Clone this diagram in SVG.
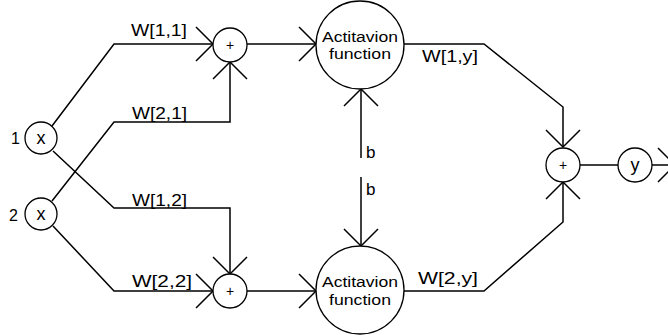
<svg xmlns="http://www.w3.org/2000/svg" width="668" height="335" viewBox="0 0 668 335">
<style>
.n{fill:#fff;stroke:#000;stroke-width:1.3}
.e{fill:none;stroke:#000;stroke-width:1.5}
.t{font-family:"Liberation Sans",Arial,sans-serif;fill:#000}
.lbl{font-size:16px}
.af{font-size:14px;text-anchor:middle}
.c{text-anchor:middle}
</style>
<defs>
<marker id="arr" markerUnits="userSpaceOnUse" markerWidth="40" markerHeight="40" refX="20" refY="20" orient="auto" viewBox="0 0 40 40" overflow="visible">
<path d="M3,3 L20,20 L3,37" fill="none" stroke="#000" stroke-width="1.5"/>
</marker>
</defs>
<g id="connectors">
<path class="e" d="M52,126 L114,44 L213,44" marker-end="url(#arr)"/>
<path class="e" d="M53,151 L114,208 L230,208 L230,274" marker-end="url(#arr)"/>
<path class="e" d="M52,201 L114,122 L230,122 L230,62" marker-end="url(#arr)"/>
<path class="e" d="M53,226 L114,291 L213,291" marker-end="url(#arr)"/>
<path class="e" d="M247,44 L316,44" marker-end="url(#arr)"/>
<path class="e" d="M247,291 L316,291" marker-end="url(#arr)"/>
<path class="e" d="M361,158 L361,89" marker-end="url(#arr)"/>
<path class="e" d="M361,177 L361,246" marker-end="url(#arr)"/>
<path class="e" d="M404,44 L484,44 L563,107 L563,147" marker-end="url(#arr)"/>
<path class="e" d="M404,291 L484,291 L563,222 L563,182" marker-end="url(#arr)"/>
<path class="e" d="M580,165 L618,165"/>
<path class="e" d="M652,165 L675,165" marker-end="url(#arr)"/>
<text class="t lbl" x="131" y="36" textLength="56" lengthAdjust="spacingAndGlyphs">W[1,1]</text>
<text class="t lbl" x="132" y="119" textLength="55" lengthAdjust="spacingAndGlyphs">W[2,1]</text>
<text class="t lbl" x="132" y="206" textLength="55" lengthAdjust="spacingAndGlyphs">W[1,2]</text>
<text class="t lbl" x="132" y="287" textLength="60" lengthAdjust="spacingAndGlyphs">W[2,2]</text>
<text class="t lbl" x="422" y="62" textLength="56" lengthAdjust="spacingAndGlyphs">W[1,y]</text>
<text class="t lbl" x="418" y="284" textLength="60" lengthAdjust="spacingAndGlyphs">W[2,y]</text>
<text class="t" x="366" y="158" font-size="17">b</text>
<text class="t" x="366" y="195" font-size="17">b</text>
</g>
<g id="x1">
<circle class="n" cx="41" cy="138" r="16"/>
<text class="t c" x="41" y="144" font-size="18">x</text>
<text class="t" x="11" y="144" font-size="16">1</text>
</g>
<g id="x2">
<circle class="n" cx="41" cy="214" r="16"/>
<text class="t c" x="41" y="220" font-size="18">x</text>
<text class="t" x="9" y="221" font-size="16">2</text>
</g>
<g id="sum1">
<circle class="n" cx="230" cy="45" r="17"/>
<text class="t c" x="230" y="50" font-size="14">+</text>
</g>
<g id="sum2">
<circle class="n" cx="230" cy="291" r="17"/>
<text class="t c" x="230" y="296" font-size="14">+</text>
</g>
<g id="act1">
<circle class="n" cx="360" cy="45" r="44"/>
<text class="t af" x="360" y="42" textLength="76" lengthAdjust="spacingAndGlyphs">Actitavion</text>
<text class="t af" x="360" y="59" textLength="62" lengthAdjust="spacingAndGlyphs">function</text>
</g>
<g id="act2">
<circle class="n" cx="360" cy="290" r="44"/>
<text class="t af" x="360" y="287" textLength="76" lengthAdjust="spacingAndGlyphs">Actitavion</text>
<text class="t af" x="360" y="305" textLength="62" lengthAdjust="spacingAndGlyphs">function</text>
</g>
<g id="sum3">
<circle class="n" cx="563" cy="165" r="17"/>
<text class="t c" x="563" y="170" font-size="14">+</text>
</g>
<g id="y">
<circle class="n" cx="635" cy="165" r="17"/>
<text class="t c" x="635" y="171" font-size="18">y</text>
</g>
</svg>
